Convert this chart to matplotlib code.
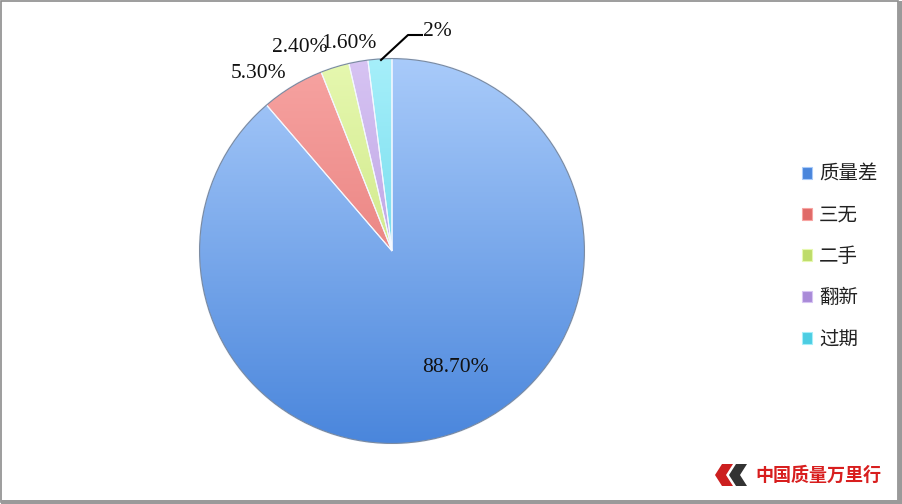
import numpy as np
import matplotlib.pyplot as plt
from matplotlib.patches import Rectangle, Polygon
from matplotlib.colors import to_rgb

plt.rcParams['font.family'] = ['Noto Sans CJK SC', 'DejaVu Sans']

labels = ['质量差', '三无', '二手', '翻新', '过期']
values = [88.7, 5.3, 2.4, 1.6, 2.0]
pct_text = ['88.70%', '5.30%', '2.40%', '1.60%', '2%']
tops = ['#a9cbfa', '#f7a4a2', '#e6f8b0', '#d7c4f3', '#a6effa']
bottoms = ['#4a86dc', '#e06a68', '#bedc6a', '#a98ad8', '#4ccde2']

fig = plt.figure(figsize=(9.02, 5.04), dpi=100)
r = 193
cx, cy = 392, 251
ax = fig.add_axes([(cx - r) / 902, (504 - cy - r) / 504, 2 * r / 902, 2 * r / 504])

wedges, _ = ax.pie(values, startangle=90, counterclock=False, radius=1,
                   colors=bottoms,
                   wedgeprops=dict(edgecolor='#f4f8ff', linewidth=0.8))
ax.set_xlim(-1, 1)
ax.set_ylim(-1, 1)
ax.set_aspect('equal')
ax.axis('off')

# vertical gradient fill clipped to each wedge
t = np.linspace(0, 1, 256)[:, None]
for w, c1, c2 in zip(wedges, tops, bottoms):
    a = np.array(to_rgb(c1))
    b = np.array(to_rgb(c2))
    grad = a[None, None, :] * (1 - t[..., None]) + b[None, None, :] * t[..., None]
    grad = np.repeat(grad, 2, axis=1)
    im = ax.imshow(grad, extent=[-1, 1, -1, 1], origin='upper', aspect='auto', zorder=1)
    im.set_clip_path(w)
    w.set_facecolor('none')
    w.set_zorder(2)

circ = plt.Circle((0, 0), 0.997, fill=False, edgecolor='#7a8aa0', linewidth=0.8, zorder=3)
ax.add_patch(circ)

# data labels
lab_pos = [(455, 368), (259, 74), (300, 47), (349, 44), (437, 32)]
for (px, py), s in zip(lab_pos, pct_text):
    fig.text(px / 902, 1 - py / 504, s, ha='center', va='center', fontsize=15.5,
             family='Liberation Serif', color='#111111')
fig.add_artist(plt.Line2D([381 / 902, 408 / 902, 422 / 902],
                          [1 - 60 / 504, 1 - 35 / 504, 1 - 35 / 504],
                          color='black', linewidth=1.5))

# legend
leg = fig.legend(wedges, labels, loc='upper left', bbox_to_anchor=(792 / 902, 1 - 154 / 504),
                 frameon=False, fontsize=14, handlelength=0.55, handleheight=0.55,
                 handletextpad=0.35, labelspacing=1.04, borderpad=0)
for h, c1, c2 in zip(leg.legend_handles, tops, bottoms):
    h.set_facecolor(c2)
    h.set_edgecolor(c1)
for txt in leg.get_texts():
    txt.set_color('#222222')

# watermark
fig.text(755 / 902, 1 - 475 / 504, '中国质量万里行', fontsize=13, color='#d81e1e',
         ha='left', va='center', fontweight='bold')
fig.add_artist(Polygon([(722 / 902, 1 - 464 / 504), (733 / 902, 1 - 464 / 504),
                        (726 / 902, 1 - 475 / 504), (733 / 902, 1 - 486 / 504),
                        (722 / 902, 1 - 486 / 504), (715 / 902, 1 - 475 / 504)],
                       closed=True, transform=fig.transFigure, facecolor='#cc1f1f'))
fig.add_artist(Polygon([(736 / 902, 1 - 464 / 504), (747 / 902, 1 - 464 / 504),
                        (740 / 902, 1 - 475 / 504), (747 / 902, 1 - 486 / 504),
                        (736 / 902, 1 - 486 / 504), (729 / 902, 1 - 475 / 504)],
                       closed=True, transform=fig.transFigure, facecolor='#333333'))

# frame
fig.add_artist(Rectangle((0.001, 0.004), 0.995, 0.994, transform=fig.transFigure,
                         fill=False, edgecolor='#8c8c8c', linewidth=1.2))
fig.add_artist(Rectangle((0.996, 0.004), 0.004, 0.994, transform=fig.transFigure,
                         facecolor='#9a9a9a', edgecolor='none'))
fig.add_artist(Rectangle((0.001, 0.0), 0.999, 0.008, transform=fig.transFigure,
                         facecolor='#9a9a9a', edgecolor='none'))

fig.savefig('out.png', dpi=100)
